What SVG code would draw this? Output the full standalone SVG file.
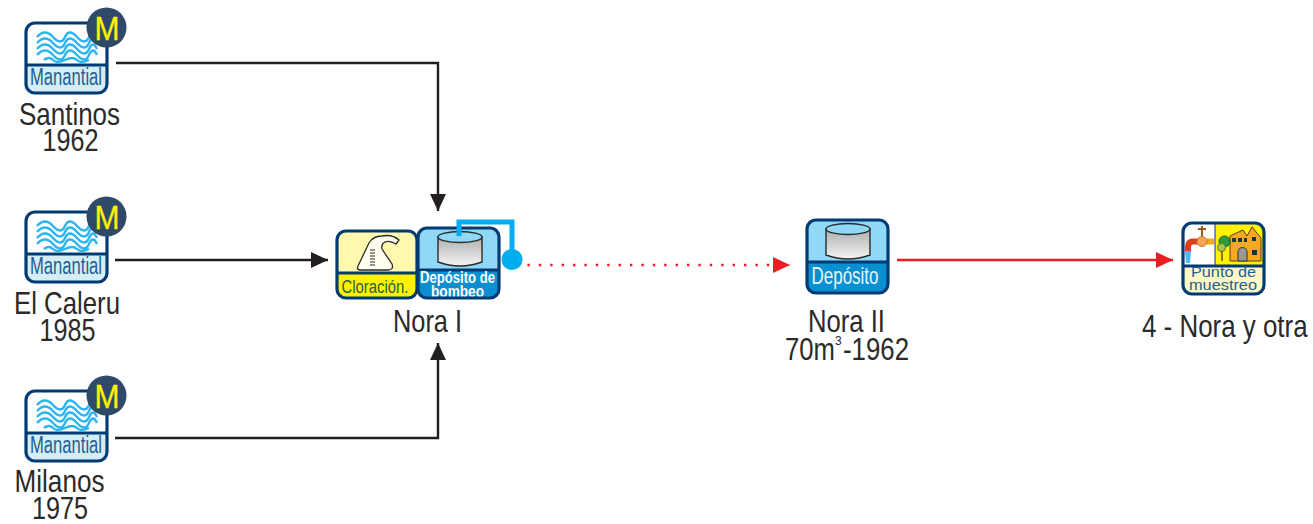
<svg xmlns="http://www.w3.org/2000/svg" xmlns:xlink="http://www.w3.org/1999/xlink" width="1313" height="524" viewBox="0 0 1313 524">
<style>
text{font-family:"Liberation Sans",Arial,sans-serif;fill:#2b2a29}
.lab{font-size:32px;text-anchor:middle}
.frame{fill:none;stroke:#003b73;stroke-width:3.200}
.wave{fill:none;stroke:#2cb5ee;stroke-width:2.400}
.con{fill:none;stroke:#231f20;stroke-width:2.400}
.red{fill:none;stroke:#ed1c24;stroke-width:2.400}
.man{font-size:23px;text-anchor:middle}
.m{font-size:33px;text-anchor:middle;stroke:#fff200;stroke-width:.3}
.cyl{fill:url(#cylg);stroke:#2b2a29;stroke-width:1.400}
.top{fill:#8fd8f8;stroke:#2b2a29;stroke-width:1.400}
</style>
<defs>
<linearGradient id="cylg" x1="0" y1="0" x2="0" y2="1"><stop offset="0" stop-color="#aeaeae"/><stop offset="1" stop-color="#f4f4f4"/></linearGradient>
<marker id="ab" markerUnits="userSpaceOnUse" markerWidth="18" markerHeight="16" refX="17" refY="8" orient="auto"><path d="M0 0L17 8L0 16Z" fill="#231f20"/></marker>
<marker id="ar" markerUnits="userSpaceOnUse" markerWidth="18" markerHeight="16" refX="17" refY="8" orient="auto"><path d="M0 0L17 8L0 16Z" fill="#ed1c24"/></marker>
<g id="manicon">
<rect x="26" y="23" width="81" height="70" rx="9" fill="#fff"/>
<path d="M26 65H107V84a9 9 0 0 1-9 9H35a9 9 0 0 1-9-9Z" fill="#d5eef5"/>
<path d="M26 65H107" class="frame"/>
<path class="wave" d="M37 37q8-9 16 0t12 0t12 0t12 0t8 0M37 43q8-9 16 0t12 0t12 0t12 0t8 0M37 49q8-9 16 0t12 0t12 0t12 0t8 0M37 55q8-9 16 0t12 0t12 0t12 0t8 0M44 60q5-4 9 0t12 0t12 0t12 0"/>
<rect x="26" y="23" width="81" height="70" rx="9" class="frame"/>
<circle cx="106.500" cy="27.500" r="20" fill="#2f4a69"/>
</g>
</defs>

<g id="connectors">
<path class="con" marker-end="url(#ab)" d="M116 63H438V211"/>
<path class="con" marker-end="url(#ab)" d="M115 260H328"/>
<path class="con" marker-end="url(#ab)" d="M115 438H438V343"/>
<path class="red" stroke-dasharray="2.400 9" marker-end="url(#ar)" d="M516 265H790"/>
<path class="red" marker-end="url(#ar)" d="M897 260H1173"/>
</g>

<g id="santinos">
<use xlink:href="#manicon"/>
<text class="m" x="107" y="39.500" textLength="25" lengthAdjust="spacingAndGlyphs" style="fill:#fff200">M</text>
<text class="man" x="66" y="85" textLength="72" lengthAdjust="spacingAndGlyphs" style="fill:#1f5f95">Manantial</text>
<text class="lab" x="69.500" y="124.500" textLength="101" lengthAdjust="spacingAndGlyphs">Santinos</text>
<text class="lab" x="70.500" y="151" textLength="56" lengthAdjust="spacingAndGlyphs">1962</text>
</g>
<g id="caleru">
<use xlink:href="#manicon" y="189"/>
<text class="m" x="107" y="228.500" textLength="25" lengthAdjust="spacingAndGlyphs" style="fill:#fff200">M</text>
<text class="man" x="66" y="274" textLength="72" lengthAdjust="spacingAndGlyphs" style="fill:#1f5f95">Manantial</text>
<text class="lab" x="67" y="313.500" textLength="106" lengthAdjust="spacingAndGlyphs">El Caleru</text>
<text class="lab" x="67.500" y="341" textLength="56" lengthAdjust="spacingAndGlyphs">1985</text>
</g>
<g id="milanos">
<use xlink:href="#manicon" y="368"/>
<text class="m" x="107" y="407.500" textLength="25" lengthAdjust="spacingAndGlyphs" style="fill:#fff200">M</text>
<text class="man" x="66" y="453" textLength="72" lengthAdjust="spacingAndGlyphs" style="fill:#1f5f95">Manantial</text>
<text class="lab" x="59.500" y="491.500" textLength="90" lengthAdjust="spacingAndGlyphs">Milanos</text>
<text class="lab" x="60" y="519" textLength="56" lengthAdjust="spacingAndGlyphs">1975</text>
</g>

<g id="cloracion">
<rect x="337" y="231" width="80" height="67" rx="9" fill="#fff9b0"/>
<path d="M337 273H417V289a9 9 0 0 1-9 9H346a9 9 0 0 1-9-9Z" fill="#fff200"/>
<path d="M337 273H417" class="frame"/>
<path d="M358 266L369 243Q373 236 382 236Q392 234 399 240L396 244Q390 240 385 242Q381 244 382 249L392 264Q394 270 388 270H361Q356 270 358 266Z" fill="#fffef0" stroke="#2b2a29" stroke-width="1.300"/>
<path d="M370 250h5M370 253h5M370 256h5M370 259h5M370 262h5M370 265h5" stroke="#2b2a29" stroke-width="1" fill="none"/>
<text x="375" y="292.500" text-anchor="middle" font-size="18" style="fill:#1f5f45" textLength="67" lengthAdjust="spacingAndGlyphs">Cloración.</text>
<rect x="337" y="231" width="80" height="67" rx="9" class="frame"/>
</g>

<g id="deposito-bombeo">
<rect x="418" y="228" width="81" height="70" rx="9" fill="#8fd8f8"/>
<path d="M418 270H499V289a9 9 0 0 1-9 9H427a9 9 0 0 1-9-9Z" fill="#0a8fd0"/>
<path d="M418 270H499" class="frame"/>
<path class="cyl" d="M438 237V262Q460 270 482 262V237Z"/>
<ellipse class="top" cx="460" cy="237" rx="22" ry="5.500"/>
<text x="457.500" y="283" text-anchor="middle" font-size="16" font-weight="700" style="fill:#fff" textLength="75" lengthAdjust="spacingAndGlyphs">Depósito de</text>
<text x="457.500" y="297" text-anchor="middle" font-size="16" font-weight="700" style="fill:#fff" textLength="53" lengthAdjust="spacingAndGlyphs">bombeo</text>
<rect x="418" y="228" width="81" height="70" rx="9" class="frame"/>
<path d="M459 236V222H512V255" fill="none" stroke="#00aeef" stroke-width="5"/>
<circle cx="512" cy="259.500" r="10.500" fill="#00aeef"/>
<text class="lab" x="427.500" y="332" textLength="69" lengthAdjust="spacingAndGlyphs">Nora I</text>
</g>

<g id="deposito">
<rect x="807" y="220" width="81" height="73" rx="9" fill="#8fd8f8"/>
<path d="M807 262H888V284a9 9 0 0 1-9 9H816a9 9 0 0 1-9-9Z" fill="#0a8fd0"/>
<path d="M807 262H888" class="frame"/>
<path class="cyl" d="M826 229V255Q848 263 870 255V229Z"/>
<ellipse class="top" cx="848" cy="229" rx="22" ry="5.500"/>
<text x="845" y="284" text-anchor="middle" font-size="24" style="fill:#e6f7fe" textLength="67" lengthAdjust="spacingAndGlyphs">Depósito</text>
<rect x="807" y="220" width="81" height="73" rx="9" class="frame"/>
<text class="lab" x="846.500" y="332" textLength="77" lengthAdjust="spacingAndGlyphs">Nora II</text>
<text x="785" y="360" font-size="32" textLength="50" lengthAdjust="spacingAndGlyphs">70m</text>
<text x="835" y="345" font-size="12">3</text>
<text x="843" y="360" font-size="32" textLength="66" lengthAdjust="spacingAndGlyphs">-1962</text>
</g>

<g id="punto">
<rect x="1183" y="223" width="81" height="71" rx="9" fill="#fff7c6"/>
<path d="M1215 223H1255a9 9 0 0 1 9 9V266H1215Z" fill="#fff200"/>
<path d="M1183 266V232a9 9 0 0 1 9-9H1215V266Z" fill="#fff"/>
<path d="M1183 266H1264" class="frame"/>
<path d="M1215 223V266" stroke="#003b73" stroke-width="1"/>
<path d="M1198 229H1206M1202 226V238" stroke="#9a5a1c" stroke-width="2" fill="none"/>
<path d="M1202 241.500H1214" stroke="#f7a823" stroke-width="6" fill="none"/>
<path d="M1202 241.500H1193Q1188 241.500 1188 247V251" stroke="#d9401f" stroke-width="6" fill="none"/>
<circle cx="1202" cy="241.500" r="5" fill="#f7a35a" stroke="#c9772a"/>
<path d="M1185 251H1191L1190 263H1186Z" fill="#4fb8ee"/>
<path d="M1230 261V236L1243 230L1247 236L1252 227L1261 238V261Z" fill="#f7a823" stroke="#5a3a10"/>
<path d="M1238 261V252a4.500 4.500 0 0 1 9 0V261Z" fill="#999" stroke="#333"/>
<path d="M1232 238h4v4h-4ZM1238 238h4v4h-4ZM1244 238h3v4h-3ZM1252 237h4v4h-4ZM1252 250h5v5h-5Z" fill="#12354f"/>
<circle cx="1224.500" cy="241.500" r="5.500" fill="#2f9a3b" stroke="#1d5e25"/>
<circle cx="1221.500" cy="247.500" r="4" fill="#a8c64a" stroke="#5d7a1f"/>
<path d="M1222 251V261" stroke="#6b4a1d" stroke-width="1.500"/>
<text x="1223.500" y="277" text-anchor="middle" font-size="15" style="fill:#1f5f95" textLength="65" lengthAdjust="spacingAndGlyphs">Punto de</text>
<text x="1223" y="290" text-anchor="middle" font-size="15" style="fill:#1f5f95" textLength="68" lengthAdjust="spacingAndGlyphs">muestreo</text>
<rect x="1183" y="223" width="81" height="71" rx="9" class="frame"/>
<text transform="translate(1142 337) scale(.81 1)" font-size="32">4 - Nora y otra</text>
</g>
</svg>
